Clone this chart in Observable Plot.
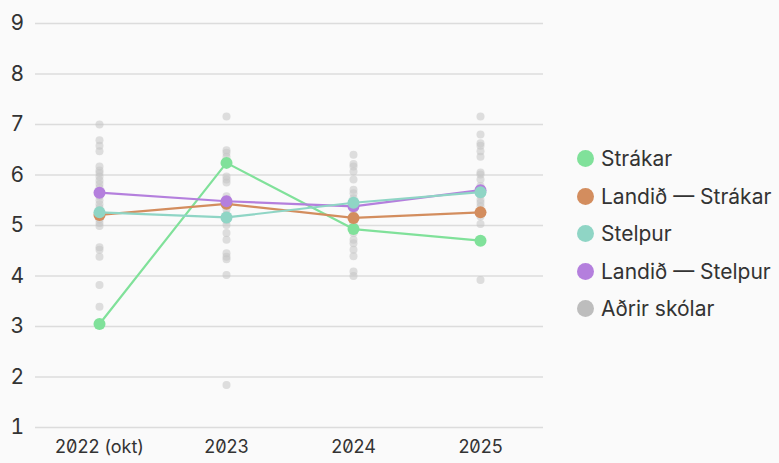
<!DOCTYPE html>
<html>
<head>
<meta charset="utf-8">
<script src="https://cdn.jsdelivr.net/npm/d3@7"></script>
<script src="https://cdn.jsdelivr.net/npm/@observablehq/plot@0.6"></script>
<style>
  body { margin: 0; background: #fafafa; font-family: Inter, "Noto Sans", sans-serif; font-feature-settings: "zero"; color: #333; }
  #wrap { position: relative; width: 779px; height: 463px; }
  #legend { position: absolute; left: 577px; top: 140px; }
  .item { display: flex; align-items: center; height: 37.5px; font-size: 21px; color: #333; }
  .sw { width: 17px; height: 17px; border-radius: 50%; margin-right: 7px; }
  svg { font-feature-settings: "zero"; }
</style>
</head>
<body>
<div id="wrap"><div id="chart"></div><div id="legend"></div></div>
<script>
const years = ["2022 (okt)", "2023", "2024", "2025"];
const strakar = [3.05, 6.24, 4.93, 4.70];
const landidStrakar = [5.21, 5.43, 5.15, 5.26];
const stelpur = [5.26, 5.16, 5.45, 5.66];
const landidStelpur = [5.65, 5.48, 5.38, 5.70];
const others2022 = [7.00, 6.69, 6.58, 6.47, 6.17, 6.09, 6.04, 5.97, 5.89, 5.82, 5.75, 5.68, 5.58, 5.5, 5.42, 5.35, 5.3, 5.2, 5.12, 5.05, 4.99, 4.57, 4.52, 4.38, 3.82, 3.39];
const others2023 = [7.16, 6.49, 6.44, 6.36, 5.97, 5.91, 5.85, 5.58, 5.51, 5.4, 5.32, 5.22, 5.1, 5.01, 4.85, 4.72, 4.45, 4.38, 4.33, 4.02, 1.84];
const others2024 = [6.40, 6.22, 6.17, 6.07, 5.91, 5.71, 5.64, 5.54, 5.45, 5.3, 5.2, 5.02, 4.9, 4.85, 4.72, 4.65, 4.52, 4.39, 4.09, 4.00];
const others2025 = [7.16, 6.80, 6.63, 6.58, 6.47, 6.36, 6.05, 6.01, 5.91, 5.78, 5.6, 5.51, 5.45, 5.38, 5.18, 5.03, 3.92];
const seriesNames = ["Strákar", "Landið — Strákar", "Stelpur", "Landið — Stelpur", "Aðrir skólar"];
const seriesColors = ["#80e19a", "#d38d5e", "#8fd5c5", "#b47fdd", "#bdbdbd"];
const yTicks = [1, 2, 3, 4, 5, 6, 7, 8, 9];

const others = [others2022, others2023, others2024, others2025]
  .flatMap((arr, i) => arr.map(v => ({year: years[i], value: v})));
const seriesData = [strakar, landidStrakar, stelpur, landidStelpur];
const rows = seriesData.flatMap((arr, s) => arr.map((v, i) => ({series: seriesNames[s], year: years[i], value: v})));
const drawOrder = [0, 1, 3, 2];

const marks = [
  Plot.gridY(yTicks, {stroke: "#dcdcdc", strokeOpacity: 1, strokeWidth: 1.5}),
  Plot.axisY(yTicks, {tickSize: 0, tickPadding: 0, textAnchor: "start", dx: -25, fontSize: 21, fill: "#333", tickFormat: d3.format("d")}),
  Plot.axisX({tickSize: 0, tickPadding: 13, fontSize: 18, fill: "#333"}),
  Plot.dot(others, {x: "year", y: "value", r: 4, fill: "#c4c4c4", fillOpacity: 0.55})
];
for (const s of drawOrder) {
  const d = rows.filter(r => r.series === seriesNames[s]);
  marks.push(Plot.line(d, {x: "year", y: "value", stroke: seriesColors[s], strokeWidth: 2.2}));
  marks.push(Plot.dot(d, {x: "year", y: "value", r: 6, fill: seriesColors[s]}));
}

const chart = Plot.plot({
  width: 560, height: 463,
  marginLeft: 35, marginRight: 17, marginTop: 23, marginBottom: 36,
  style: {background: "transparent", fontFamily: "Inter, sans-serif"},
  x: {type: "point", domain: years, padding: 0.5, label: null, axis: null},
  y: {domain: [1, 9], label: null, axis: null},
  marks
});
document.getElementById("chart").appendChild(chart);

const legend = document.getElementById("legend");
seriesNames.forEach((n, i) => {
  const item = document.createElement("div");
  item.className = "item";
  item.innerHTML = `<span class="sw" style="background:${seriesColors[i]}"></span><span>${n}</span>`;
  legend.appendChild(item);
});
</script>
</body>
</html>
